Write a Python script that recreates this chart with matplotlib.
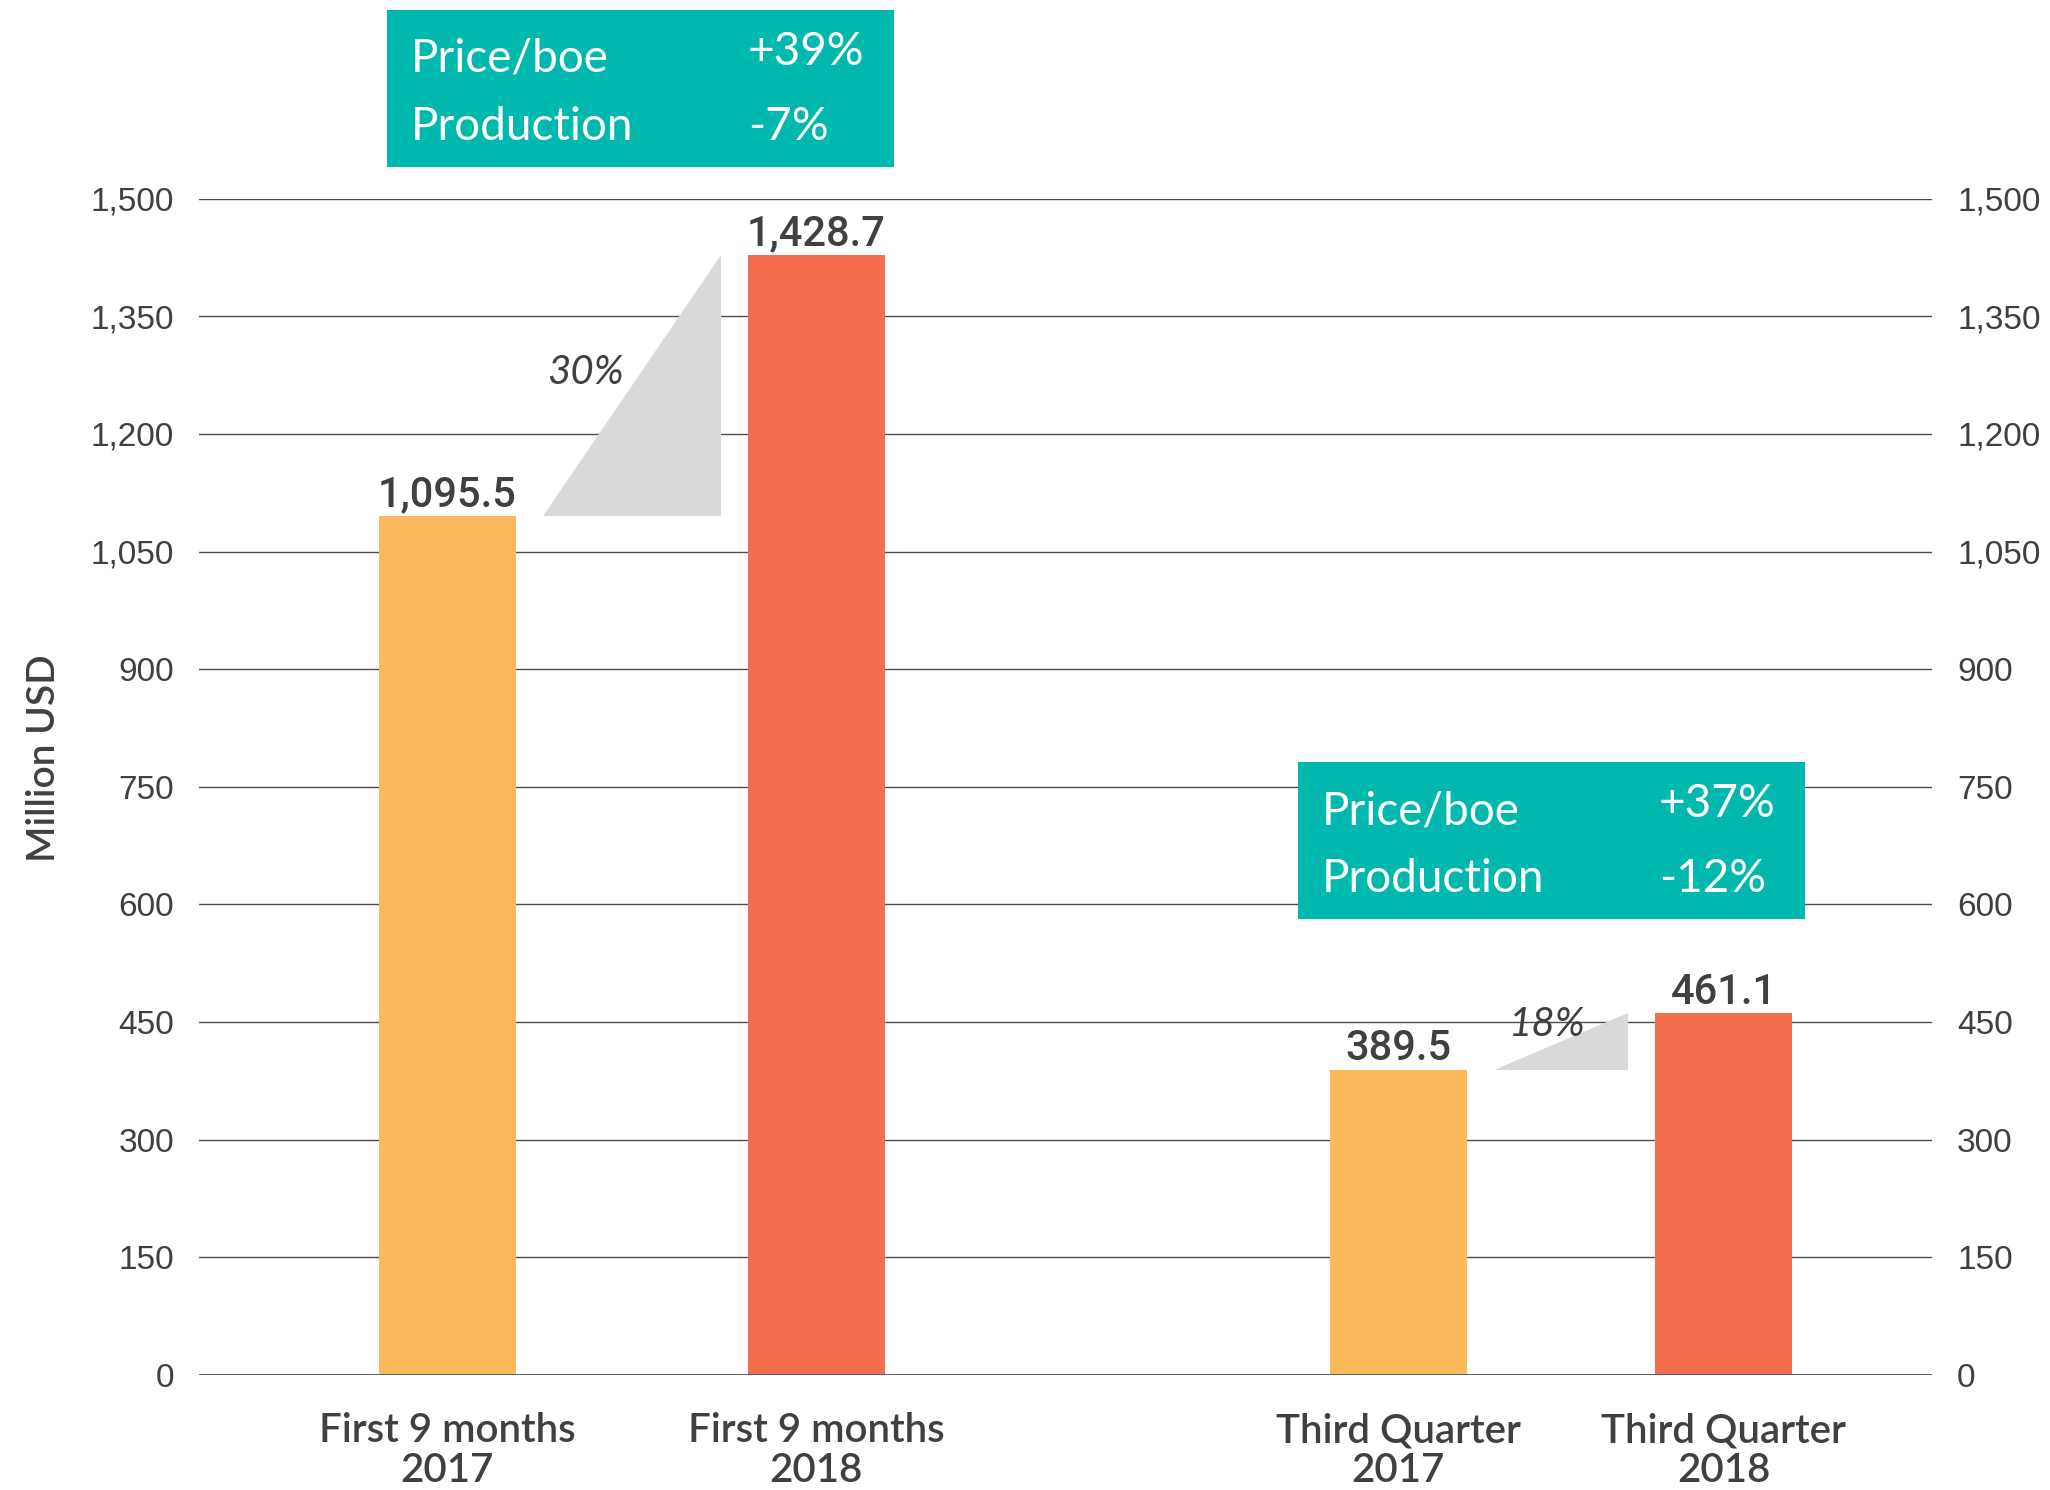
import matplotlib
matplotlib.use("Agg")
import matplotlib.pyplot as plt
from matplotlib.patches import Polygon, Rectangle
from matplotlib.ticker import FuncFormatter

# revenue by period, million USD
categories = ["First 9 months\n2017", "First 9 months\n2018",
              "Third Quarter\n2017", "Third Quarter\n2018"]
values = [1095.5, 1428.7, 389.5, 461.1]
slots = [0, 1, 2.577, 3.458]
bar_colors = ["#FBB95B", "#F26E4C", "#FBB95B", "#F26E4C"]

# growth between each pair of bars (index of the earlier bar, label height on the ramp)
pairs = [(0, 0.55), (2, 0.81)]

# price / production boxes
box_rows = [
    [("Price/boe", "+39%"), ("Production", "-7%")],
    [("Price/boe", "+37%"), ("Production", "-12%")],
]
box_px = [(387, 10), (1298, 762)]  # left, top in pixels

yticks = list(range(0, 1501, 150))

W, H = 2050, 1490
TEAL = "#00B8AD"
TXT = "#404040"
GRID = "#4d4d4d"

fig = plt.figure(figsize=(W / 100, H / 100), dpi=100)
ax = fig.add_axes([199 / W, 115 / H, 1733 / W, (1375 - 198.7) / H])

width = 0.371
ax.bar(slots, values, width=width, color=bar_colors, zorder=3)

ax.set_xlim(-0.673, 4.023)
ax.set_ylim(0, 1500)
ax.set_yticks(yticks)
ax.yaxis.set_major_formatter(FuncFormatter(lambda v, p: f"{int(v):,}"))
ax.yaxis.grid(True, color=GRID, lw=1.0)
ax.set_axisbelow(True)
ax.axhline(0, color="#555555", lw=2.0, zorder=4)
for s in ax.spines.values():
    s.set_visible(False)

ax.tick_params(axis="y", length=0, pad=18, labelsize=24, labelcolor=TXT,
               labelleft=True, labelright=True)
for lab in ax.get_yticklabels():
    lab.set_fontfamily("Liberation Sans")

ax.set_xticks(slots)
ax.set_xticklabels(categories, fontsize=29, color=TXT, family="Lato",
                   fontweight="semibold", linespacing=1.1)
ax.tick_params(axis="x", length=0, pad=27)

# value labels on top of bars
for xi, v in zip(slots, values):
    ax.annotate(f"{v:,.1f}", (xi, v), xytext=(0, 7), textcoords="offset points",
                ha="center", va="baseline", fontsize=30, fontweight="medium",
                family="Roboto", color=TXT, zorder=5)

# grey ramps showing the change between periods
gap = 0.073
for i, frac in pairs:
    x0 = slots[i] + width / 2 + gap
    x1 = slots[i + 1] - width / 2 - gap
    v0, v1 = values[i], values[i + 1]
    ax.add_patch(Polygon([(x0, v0), (x1, v0), (x1, v1)], closed=True,
                         facecolor="#D9D9D9", edgecolor="none", zorder=2.5))
    pct = round((v1 / v0 - 1) * 100)
    yv = v0 + frac * (v1 - v0)
    xv = x0 + frac * (x1 - x0)
    ax.annotate(f"{pct}%", (xv, yv), xytext=(-40, 0), textcoords="offset points",
                ha="center", va="center", fontsize=29, style="italic",
                family="Lato", color=TXT, zorder=5)

fig.text(44 / W, 1 - 758 / H, "Million USD", rotation=90, ha="center",
         va="center", fontsize=28, fontweight="semibold", family="Lato",
         color=TXT)

# teal summary boxes
for (left, top), rows in zip(box_px, box_rows):
    fig.add_artist(Rectangle((left / W, 1 - (top + 157) / H), 507 / W, 157 / H,
                             transform=fig.transFigure, facecolor=TEAL,
                             edgecolor="none"))
    for k, (name, change) in enumerate(rows):
        base = top + 62 + 68 * k
        lift = 7 if k == 0 else 0
        fig.text((left + 24) / W, 1 - base / H, name, ha="left", va="baseline",
                 fontsize=33, family="Lato", color="white")
        fig.text((left + 361) / W, 1 - (base - lift) / H, change, ha="left",
                 va="baseline", fontsize=33, family="Lato", color="white")

fig.savefig("out.png", dpi=100, facecolor="white")
